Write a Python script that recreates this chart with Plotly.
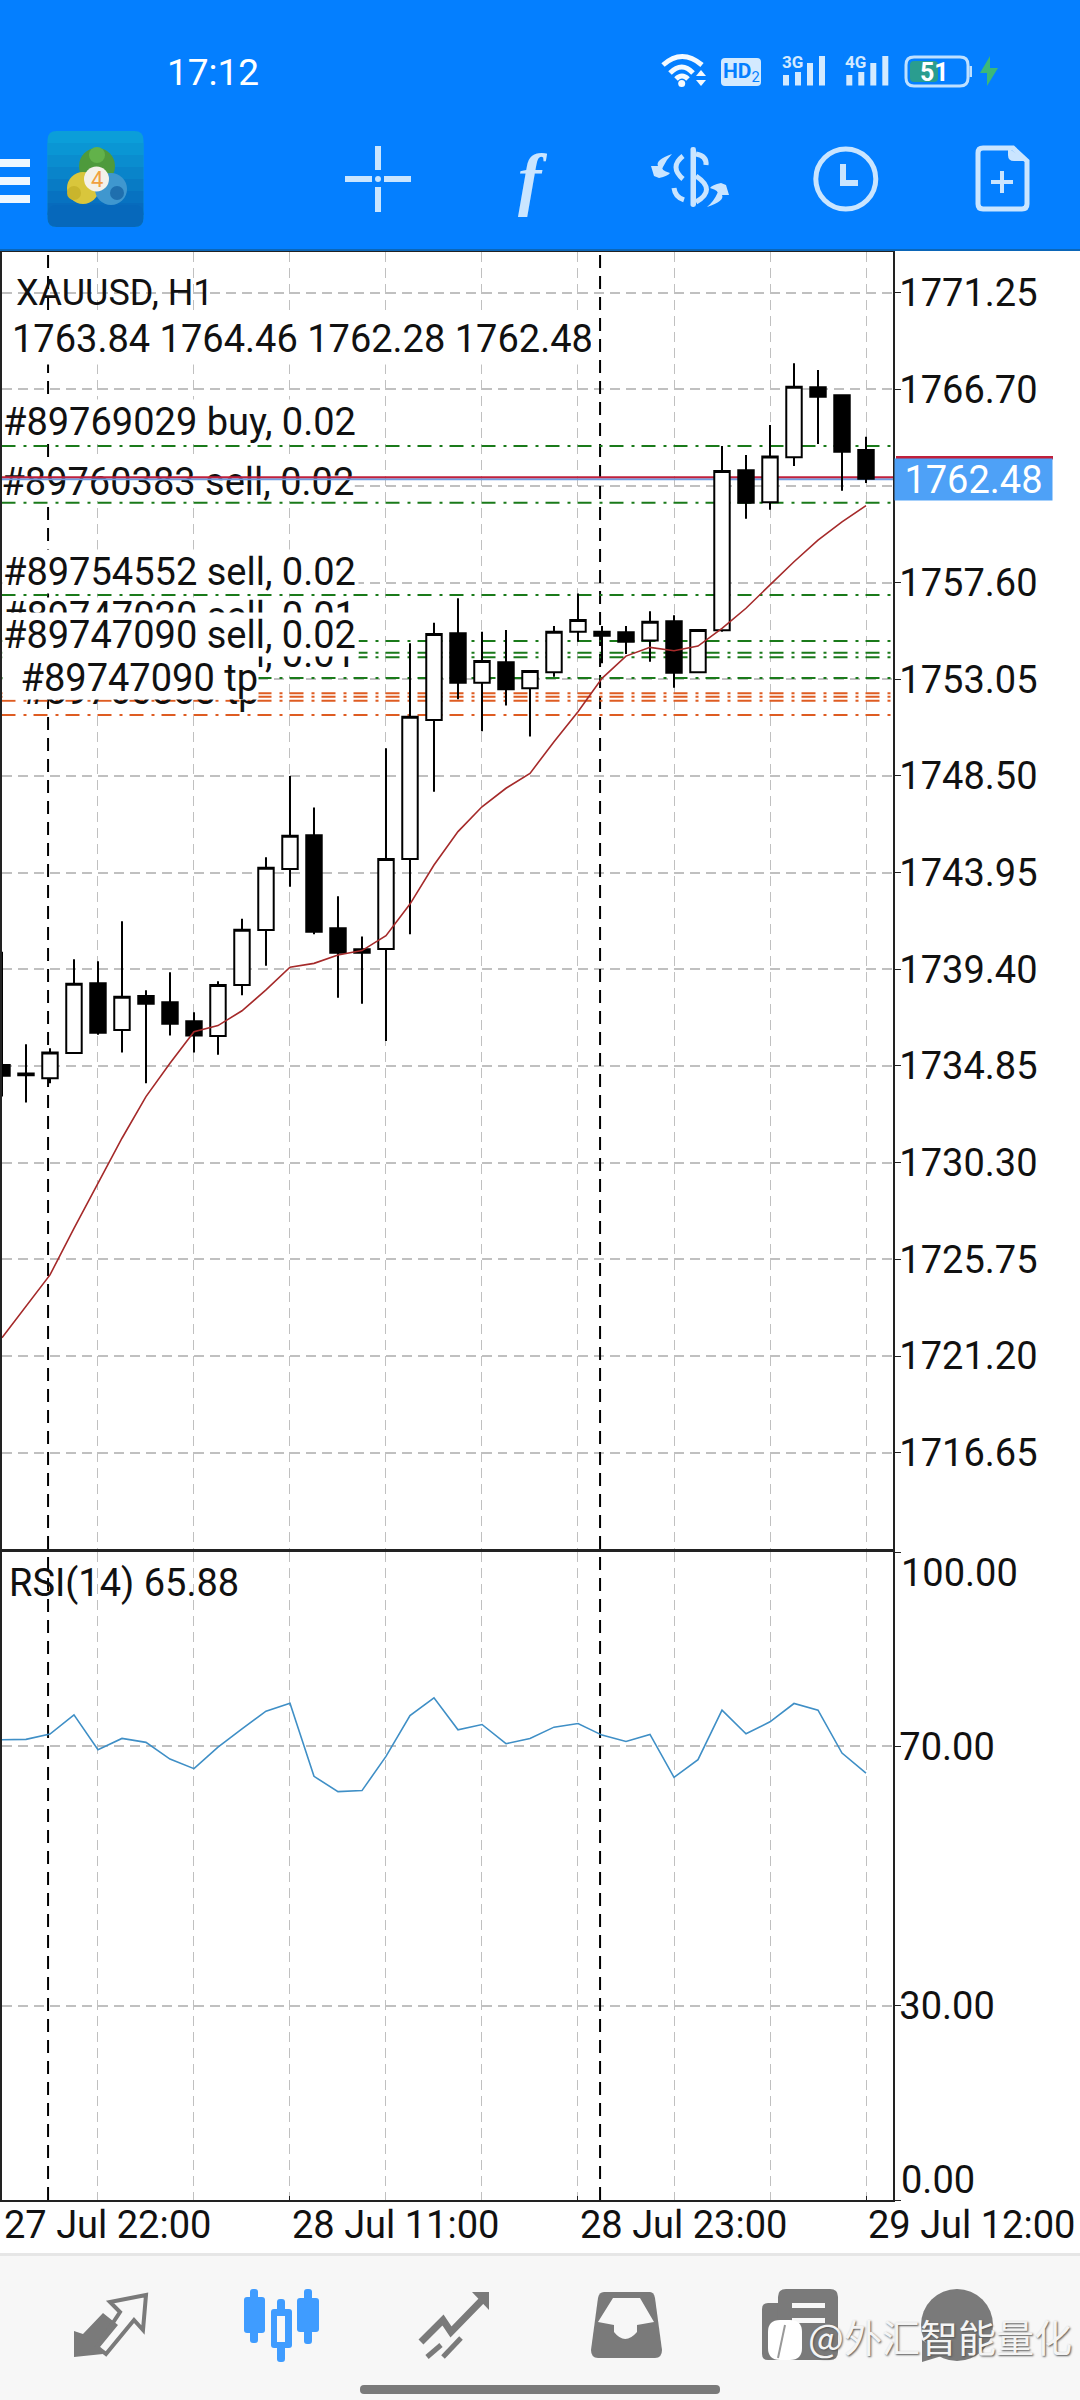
import plotly.graph_objs as go
from plotly.subplots import make_subplots

W, H = 1080, 2400

# candles, one per H1 bar
candle_index = list(range(37))
opens = [1734.90, 1734.50, 1734.27, 1735.46, 1738.74, 1736.54, 1738.14, 1737.85, 1736.95, 1736.26,
         1738.66, 1741.25, 1744.12, 1745.71, 1741.33, 1740.34, 1740.36, 1744.59, 1751.13, 1755.22,
         1752.89, 1753.85, 1752.63, 1753.38, 1755.29, 1755.29, 1755.26, 1754.87, 1755.78, 1753.38,
         1755.36, 1762.88, 1761.38, 1763.50, 1766.79, 1766.41, 1763.84]
highs = [1740.23, 1735.87, 1735.68, 1739.87, 1739.78, 1741.66, 1738.41, 1739.26, 1737.38, 1738.84,
         1741.78, 1744.67, 1748.50, 1747.02, 1742.84, 1740.94, 1749.80, 1754.74, 1755.71, 1756.86,
         1755.29, 1755.37, 1753.44, 1755.56, 1757.09, 1755.56, 1755.56, 1756.25, 1756.06, 1755.37,
         1764.03, 1763.60, 1765.02, 1767.92, 1767.60, 1766.41, 1764.46]
lows = [1733.41, 1733.13, 1734.04, 1735.46, 1736.32, 1735.48, 1734.04, 1736.28, 1735.48, 1735.38,
        1738.18, 1739.57, 1743.29, 1741.05, 1738.06, 1737.78, 1736.03, 1741.05, 1747.76, 1752.11,
        1750.60, 1751.82, 1750.35, 1753.17, 1754.82, 1753.80, 1754.24, 1753.87, 1752.65, 1753.38,
        1755.29, 1760.60, 1761.03, 1763.09, 1764.12, 1761.92, 1762.28]
closes = [1734.39, 1734.42, 1735.48, 1738.72, 1736.42, 1738.11, 1737.78, 1736.84, 1736.28, 1738.66,
          1741.26, 1744.18, 1745.69, 1741.17, 1740.18, 1740.18, 1744.59, 1751.29, 1755.18, 1752.89,
          1753.91, 1752.58, 1753.44, 1755.29, 1755.84, 1755.10, 1754.82, 1755.76, 1753.36, 1755.37,
          1762.85, 1761.36, 1763.53, 1766.82, 1766.35, 1763.76, 1762.48]
moving_avg = [1722.06, 1723.52, 1725.02, 1727.21, 1729.33, 1731.45, 1733.41, 1734.98, 1736.46, 1736.75,
              1737.45, 1738.43, 1739.50, 1739.68, 1740.07, 1740.28, 1740.98, 1742.47, 1744.31, 1745.88,
              1747.05, 1747.92, 1748.62, 1750.11, 1751.52, 1753.09, 1754.14, 1754.55, 1754.39, 1754.61,
              1755.44, 1756.39, 1757.49, 1758.58, 1759.60, 1760.46, 1761.22]
rsi_values = [71.03, 71.08, 71.90, 74.87, 69.49, 71.23, 70.62, 68.05, 66.56, 69.90,
              72.72, 75.44, 76.67, 65.38, 63.03, 63.18, 68.46, 74.77, 77.49, 72.56,
              73.38, 70.41, 71.23, 72.97, 73.54, 71.74, 70.77, 71.85, 65.23, 67.95,
              75.59, 71.95, 73.79, 76.62, 75.59, 68.97, 65.88]

price_ticks = [1771.25, 1766.70, 1762.15, 1757.60, 1753.05, 1748.50, 1743.95,
               1739.40, 1734.85, 1730.30, 1725.75, 1721.20, 1716.65]
rsi_ticks = [70, 30]
rsi_edges = [100, 0]
time_ticks = [0, 12, 24, 36]
time_labels = ['27 Jul 22:00', '28 Jul 11:00', '28 Jul 23:00', '29 Jul 12:00']
grid_bars = [4, 8, 16, 20, 28, 32]
separator_bars = [1.92, 24.92]

buy_levels = [1764.03, 1761.35, 1757.02, 1754.85, 1754.30, 1754.08, 1753.11]
tp_levels = [1752.39, 1752.23, 1752.04, 1751.37]
ask_price = 1762.55
bid_price = 1762.48

x_range = [-0.02, 37.125]
price_range = [1712.12, 1773.156]
rsi_range = [0, 100]

FONT = 'Roboto'
SIZE = 38
INK = '#111111'
GRID = '#c0c0c0'
ICON = '#cae5ff'
GRAY = '#7a7a7a'
GREEN = '#1a7a1a'
ORANGE = '#de5c22'


def px(x):
    return x / W


def py(y):
    return 1 - y / H


def svg_path(d):
    out = []
    is_x = True
    for tok in d.split():
        if tok.isalpha():
            out.append(tok)
        else:
            out.append('{:.5f}'.format(px(float(tok)) if is_x else py(float(tok))))
            is_x = not is_x
    return ' '.join(out)


def path(d, fill=None, stroke=None, width=0):
    return dict(type='path', xref='paper', yref='paper', layer='above', path=svg_path(d),
                fillcolor=fill if fill else 'rgba(0,0,0,0)',
                line=dict(color=stroke if stroke else 'rgba(0,0,0,0)', width=width))


def rect(x0, y0, x1, y1, fill):
    return dict(type='rect', xref='paper', yref='paper', layer='above', x0=px(x0), x1=px(x1),
                y0=py(y0), y1=py(y1), fillcolor=fill, line=dict(width=0))


def rounded(x0, y0, x1, y1, r, fill=None, stroke=None, width=0):
    d = 'M {a} {t} L {b} {t} Q {x1} {t} {x1} {c} L {x1} {e} Q {x1} {y1} {b} {y1} L {a} {y1} Q {x0} {y1} {x0} {e} ' \
        'L {x0} {c} Q {x0} {t} {a} {t} Z'.format(a=x0 + r, b=x1 - r, t=y0, c=y0 + r, e=y1 - r, x0=x0, x1=x1, y1=y1)
    return path(d, fill, stroke, width)


def circle(cx, cy, r, fill=None, stroke=None, width=0):
    return dict(type='circle', xref='paper', yref='paper', layer='above', x0=px(cx - r), x1=px(cx + r),
                y0=py(cy + r), y1=py(cy - r), fillcolor=fill if fill else 'rgba(0,0,0,0)',
                line=dict(color=stroke if stroke else 'rgba(0,0,0,0)', width=width))


def text(s, x, y, size=SIZE, color=INK, anchor='left', family=FONT, **kw):
    return dict(text=s, xref='paper', yref='paper', x=px(x), y=py(y), xanchor=anchor, yanchor='middle',
                showarrow=False, borderpad=0, font=dict(family=family, size=size, color=color), **kw)


def boxed(s, x0, x1, y, height=43, align='left'):
    return text(s, x0, y, bgcolor='white', width=x1 - x0, height=height, align=align, valign='middle')


fig = make_subplots(rows=2, cols=1, shared_xaxes=True, vertical_spacing=0)

fig.add_trace(go.Candlestick(
    x=candle_index, open=opens, high=highs, low=lows, close=closes,
    increasing=dict(line=dict(color='black', width=2), fillcolor='white'),
    decreasing=dict(line=dict(color='black', width=2), fillcolor='black'),
    whiskerwidth=0, hoverinfo='skip', showlegend=False), row=1, col=1)
fig.add_trace(go.Scatter(x=candle_index, y=moving_avg, mode='lines', line=dict(color='#a52a2a', width=1.6),
                         hoverinfo='skip', showlegend=False), row=1, col=1)
fig.add_trace(go.Scatter(x=candle_index, y=rsi_values, mode='lines', line=dict(color='#3f8fc6', width=1.6),
                         hoverinfo='skip', showlegend=False), row=2, col=1)

# chart shapes sit between grid and candles, so candle bodies hide them
chart_shapes = []
for bar in separator_bars:
    for xr, yr, rng in (('x', 'y', price_range), ('x2', 'y2', rsi_range)):
        chart_shapes.append(dict(type='line', layer='between', xref=xr, yref=yr, x0=bar, x1=bar, y0=rng[0], y1=rng[1],
                                 line=dict(color='black', width=2, dash='13px,8px')))
for levels, colour in ((buy_levels, GREEN), (tp_levels, ORANGE)):
    for level in levels:
        chart_shapes.append(dict(type='line', layer='between', xref='x', yref='y', x0=x_range[0], x1=x_range[1],
                                 y0=level, y1=level, line=dict(color=colour, width=2, dash='14px,8px,3px,7px')))
# this order label lies under the bid lines
chart_shapes.append(dict(type='rect', layer='between', xref='x', yref='y', x0=-0.15, x1=14.7,
                         y0=1761.44, y1=1763.51, fillcolor='white', line=dict(width=0),
                         label=dict(text='#89760383 sell, 0.02', textposition='middle left', padding=0,
                                    font=dict(family=FONT, size=SIZE, color=INK))))
chart_shapes.append(dict(type='line', layer='between', xref='x', yref='y', x0=x_range[0], x1=x_range[1],
                         y0=bid_price - 0.02, y1=bid_price - 0.02, line=dict(color='#6f9ce0', width=2)))
chart_shapes.append(dict(type='line', layer='between', xref='x', yref='y', x0=x_range[0], x1=x_range[1],
                         y0=ask_price, y1=ask_price, line=dict(color='#c0203c', width=2)))

# phone chrome
chrome = [rect(0, 0, W, 250, '#047fff'), rect(0, 249, W, 251, '#0b66b8'),
          rect(0, 2253, W, 2256, '#e6e6e6'), rect(0, 2256, W, H, '#f7f7f7')]
for top in (159, 177, 195):
    chrome.append(rect(0, top, 30, top + 8, '#eef7ff'))

# app logo
chrome.append(rounded(47.5, 131, 143.5, 227, 9, '#0b9ed9'))
for i, colour in enumerate(['#0a96d4', '#0a8dcf', '#0984ca', '#087bc5', '#0772c1', '#076bbd']):
    chrome.append(rect(47.5, 143 + i * 12, 143.5, 155 + i * 12, colour))
chrome.append(rounded(47.5, 205, 143.5, 227, 9, '#0668bb'))
chrome += [circle(97, 166, 18, '#4e9a3c'), circle(83, 188, 16, '#d9c63c'), circle(111, 189, 16, '#3f97cf'),
           circle(97, 155, 8, '#62b24a'), circle(74, 193, 7, '#c9b52c'), circle(117, 193, 7, '#1f6fae'),
           circle(96.5, 179, 12.5, '#f4f1ea')]

# crosshair
chrome += [rect(345, 176, 372, 182, ICON), rect(384, 176, 411, 182, ICON),
           rect(375, 146, 381, 170, ICON), rect(375, 187, 381, 212, ICON), circle(378, 179, 3, ICON)]

# dollar with arrows
chrome += [rounded(690.5, 147, 696, 207, 2.5, ICON),
           path('M 683 156 Q 669 167 683 179', stroke=ICON, width=5),
           path('M 696 154 Q 707 156 706 165', stroke=ICON, width=5),
           path('M 696 176 Q 717 190 696 202', stroke=ICON, width=5),
           path('M 674 188 Q 675 197 684 200', stroke=ICON, width=5),
           path('M 672 154 Q 655 160 658 166 L 651 166 L 654 176 L 659 178 Q 668 176 670 173 Q 660 170 663 167 '
                'Q 666 160 672 154 Z', fill=ICON),
           path('M 707 207 Q 725 201 722 195 L 729 195 L 726 185 L 721 183 Q 712 185 710 188 Q 720 191 717 194 '
                'Q 714 201 707 207 Z', fill=ICON)]

# clock
chrome += [circle(845.8, 179, 30, stroke=ICON, width=5),
           path('M 843 164 L 843 183 L 858 183', stroke=ICON, width=6)]

# new document
chrome += [path('M 983 148 L 1013 148 L 1027 161 L 1027 204 Q 1027 209 1022 209 L 983 209 Q 978 209 978 204 '
                'L 978 153 Q 978 148 983 148 Z', stroke=ICON, width=5),
           path('M 1008 148 L 1028 161 L 1014 161 Q 1008 161 1008 155 Z', fill=ICON),
           rect(991, 180, 1013, 184, ICON), rect(1000, 171, 1004, 193, ICON)]

# status bar
chrome += [path('M 663 65 Q 682 48 702 65', stroke='#f4faff', width=5),
           path('M 670 73 Q 682 61 693 73', stroke='#f4faff', width=5),
           path('M 676 79 Q 682 73 688 79', stroke='#f4faff', width=5),
           circle(681.7, 83.5, 3.5, '#f4faff'),
           path('M 701 70 L 706 76 L 696 76 Z', fill='#f4faff'),
           path('M 701 86 L 706 80 L 696 80 Z', fill='#f4faff'),
           rounded(721, 58, 761, 86, 4, '#d3eaff')]
for shift in (0, 63.3):
    for bar_x, bar_top in ((783, 75), (795, 72), (807, 63), (819, 56)):
        chrome.append(rect(bar_x + shift, bar_top, bar_x + shift + 6, 85.5, '#d3eaff'))
    chrome.append(rect(780 + shift, 54, 804 + shift, 70, '#047fff'))
chrome += [rounded(906, 57, 968, 86, 8, stroke='#bfe0ff', width=3),
           rounded(910, 61, 938, 82, 4, '#2a9d8f'),
           rect(969.5, 66, 972, 77, '#bfe0ff'),
           path('M 990 56 L 980 73 L 987 73 L 987 86 L 998 68 L 990 68 Z', fill='#3cb878')]

# last price strip
chrome.append(rect(896, 456, 1053, 459.5, '#c0203c'))

# bottom bar icons
chrome += [path('M 74 2357 L 74 2331 L 83 2334 L 103 2313 L 118 2325 L 100 2347 L 103 2354 Z', fill=GRAY),
           path('M 146 2295 L 110 2302 L 120 2312 L 97 2347 L 106 2354 L 134 2320 L 143 2330 Z', stroke=GRAY, width=4)]
chrome += [rounded(250, 2289, 258, 2343, 3, '#3f9cff'), rounded(244, 2297, 265, 2333, 3, '#3f9cff'),
           rounded(304, 2289, 312, 2344, 3, '#3f9cff'), rounded(297, 2298, 319, 2332, 3, '#3f9cff'),
           rounded(277, 2299, 285, 2362, 3, '#3f9cff'), rounded(271, 2309, 292, 2348, 3, '#3f9cff'),
           rect(277, 2316, 285, 2342, '#f7f7f7')]
chrome += [path('M 421 2342 L 443 2320 L 451 2332 L 485 2297', stroke=GRAY, width=7),
           path('M 472 2292 L 489 2292 L 489 2310 Z', fill=GRAY),
           path('M 427 2357 L 441 2345', stroke=GRAY, width=5),
           path('M 443 2357 L 461 2338', stroke=GRAY, width=5)]
chrome += [path('M 604 2292 L 650 2292 Q 654 2292 655 2298 L 662 2350 Q 662 2358 655 2358 L 598 2358 '
                'Q 591 2358 591 2350 L 598 2298 Q 599 2292 604 2292 Z', fill=GRAY),
           path('M 613 2298 L 640 2298 L 654 2322 L 637 2325 L 637 2332 Q 625 2346 614 2332 L 614 2325 L 598 2322 Z',
                fill='#f7f7f7')]
chrome += [rounded(762, 2303, 790, 2360, 6, GRAY), rounded(778, 2289, 838, 2360, 8, GRAY),
           rect(792, 2303, 825, 2308, '#f7f7f7'), rect(792, 2318, 825, 2323, '#f7f7f7'),
           circle(957, 2325, 36, GRAY), path('M 922 2340 L 922 2362 L 945 2355 Z', fill=GRAY),
           rounded(768, 2320, 802, 2360, 12, 'white'),
           path('M 785 2325 L 778 2358', stroke='#999999', width=2),
           rounded(360, 2385, 720, 2394, 4, GRAY)]

# order labels, later ones paint over earlier ones
labels = [
    text('#89760383 tp', 21, 691),
    boxed('#89769029 buy, 0.02', 2, 357, 421),
    boxed('#89754552 sell, 0.02', 2, 357, 571),
    boxed('#89747020 sell, 0.01', 2, 357, 616, height=36),
    boxed('#89747031 sell, 0.01', 2, 357, 654),
    boxed('#89747090 sell, 0.02', 2, 357, 634.5),
    boxed('#89747090 tp', 2, 257, 677, align='right'),
    text('XAUUSD, H1', 15, 293, size=36),
    boxed('1763.84 1764.46 1762.28 1762.48', 11, 590, 339, height=50),
    text('RSI(14) 65.88', 8, 1583),
    text('1762.48', 1053, 479.5, color='white', anchor='right', bgcolor='#4ea1f7', width=157, height=41, align='center'),
    dict(text='100.00', xref='paper', yref='y2', x=px(899), y=rsi_edges[0], xanchor='left', yanchor='top', yshift=3,
         showarrow=False, font=dict(family=FONT, size=SIZE, color=INK)),
    dict(text='0.00', xref='paper', yref='y2', x=px(899), y=rsi_edges[1], xanchor='left', yanchor='bottom', yshift=-4,
         showarrow=False, font=dict(family=FONT, size=SIZE, color=INK)),
]
for tick, label in zip(time_ticks, time_labels):
    labels.append(dict(text=label, xref='x2', yref='paper', x=tick, y=py(2225), xanchor='left', yanchor='middle',
                       showarrow=False, font=dict(family=FONT, size=SIZE, color=INK)))

labels += [
    text('17:12', 166, 72, size=37, color='white'),
    text('<b><i>f</i></b>', 533, 178, size=70, color=ICON, anchor='center', family='Liberation Serif'),
    text('4', 96.5, 179, size=22, color='#f0a040', anchor='center'),
    text('<b>HD</b><sub>2</sub>', 741, 72, size=21, color='#047fff', anchor='center'),
    text('<b>3G</b>', 792, 62, size=17, color='#d3eaff', anchor='center'),
    text('<b>4G</b>', 855, 62, size=17, color='#d3eaff', anchor='center'),
    text('<b>51</b>', 934, 72, size=25, color='white', anchor='center'),
    dict(text='@外汇智能量化', xref='paper', yref='paper', x=px(806), y=py(2335), xanchor='left', yanchor='middle',
         showarrow=False, font=dict(family='Noto Sans CJK SC', size=38, color='#f4f4f4', shadow='1px 1px 2px #555555')),
]

h_grid = dict(showgrid=True, gridcolor=GRID, gridwidth=1.5, griddash='10px,6px')
v_grid = dict(showgrid=True, gridcolor=GRID, gridwidth=1.3, griddash='10px,6px')
axis_line = dict(showline=True, linecolor='#222222', linewidth=1.5, mirror=True, zeroline=False)
minor_grid = dict(tickmode='array', tickvals=grid_bars, showgrid=True, gridcolor=GRID, gridwidth=1.3,
                  griddash='10px,6px', ticklen=0)

fig.update_layout(
    width=W, height=H, autosize=False, margin=dict(l=0, r=0, t=0, b=0, pad=0),
    paper_bgcolor='white', plot_bgcolor='white', showlegend=False, boxgap=0.08,
    font=dict(family=FONT, size=SIZE, color=INK),
    shapes=chart_shapes + chrome, annotations=labels,
    xaxis=dict(domain=[px(1.5), px(893)], range=x_range, type='linear', tickvals=time_ticks, ticks='',
               showticklabels=False, rangeslider=dict(visible=False), minor=minor_grid, **v_grid, **axis_line),
    xaxis2=dict(domain=[px(1.5), px(893)], range=x_range, type='linear', tickvals=time_ticks, showticklabels=False,
                ticks='inside', ticklen=4, tickcolor='#222222', minor=minor_grid, **v_grid, **axis_line),
    yaxis=dict(domain=[py(1549), py(252)], range=price_range, side='right', tickvals=price_ticks,
               ticktext=['{:.2f}'.format(t) for t in price_ticks], ticks='outside', ticklen=6, tickcolor='#222222',
               ticklabelstandoff=-9, tickfont=dict(family=FONT, size=SIZE, color=INK), **h_grid, **axis_line),
    yaxis2=dict(domain=[py(2200), py(1552)], range=rsi_range, side='right', tickvals=rsi_ticks,
                ticktext=['{:.2f}'.format(t) for t in rsi_ticks], ticks='outside', ticklen=6, tickcolor='#222222',
                minor=dict(tickmode='array', tickvals=rsi_edges, ticks='outside', ticklen=6, tickcolor='#222222'),
                ticklabelstandoff=-9, tickfont=dict(family=FONT, size=SIZE, color=INK), **h_grid, **axis_line),
)

fig.write_html('out.html', config=dict(displayModeBar=False),
               post_script="document.body.style.margin='0';document.body.style.overflow='hidden';")
